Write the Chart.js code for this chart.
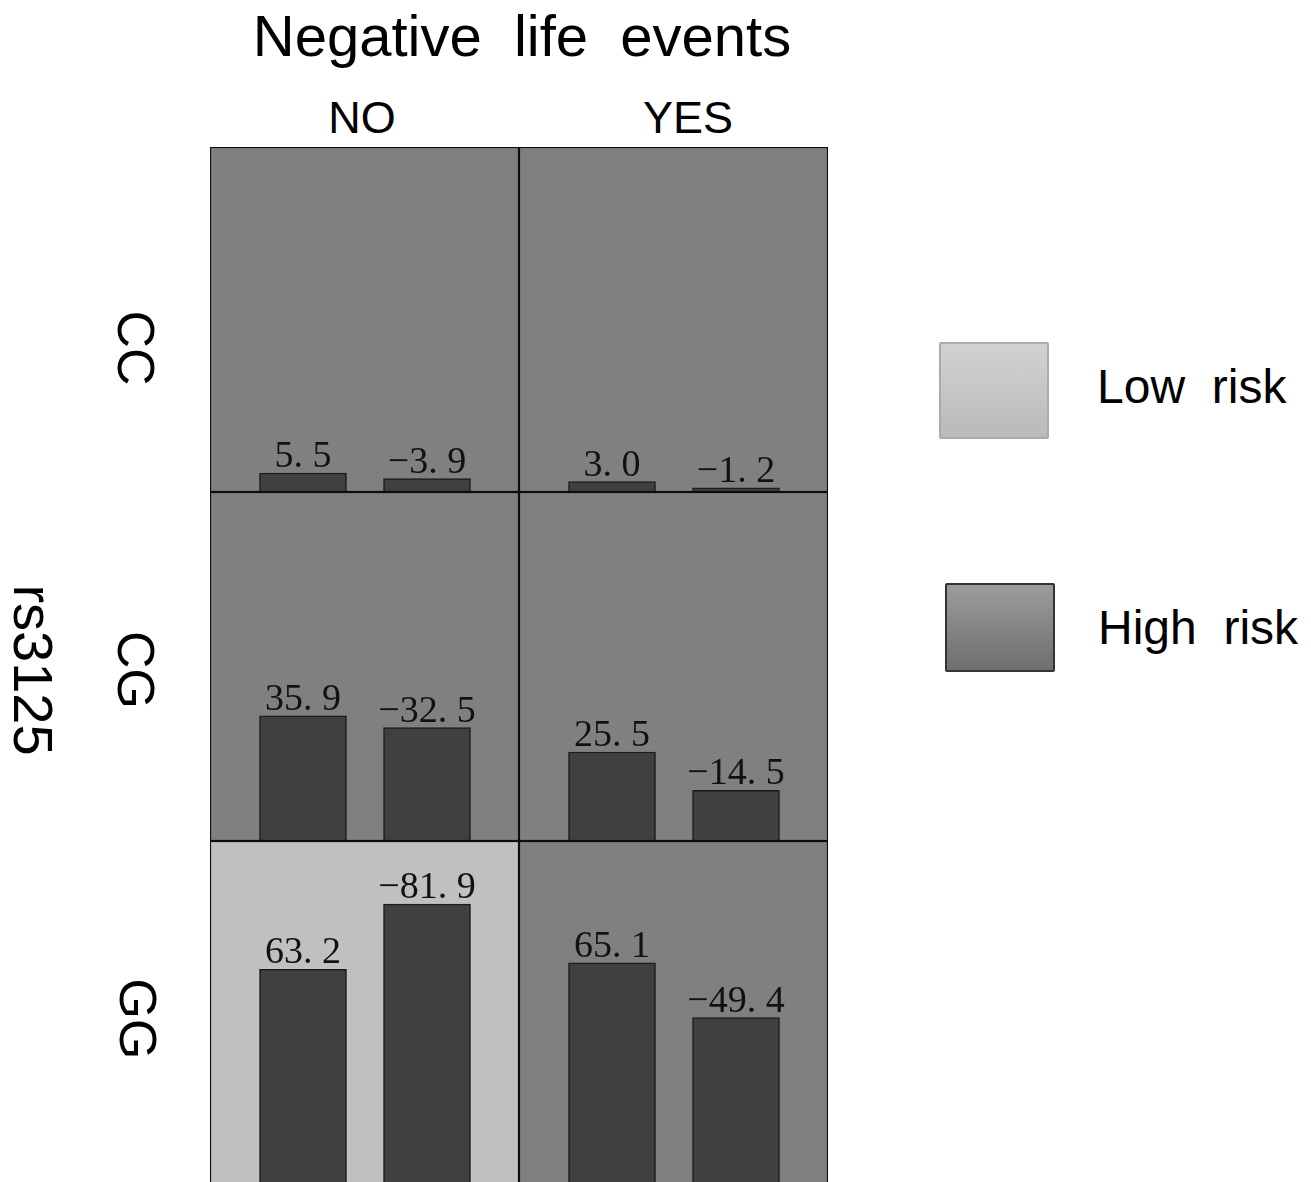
<!DOCTYPE html>
<html>
<head>
<meta charset="utf-8">
<script src="https://cdn.jsdelivr.net/npm/chart.js@4.4.1/dist/chart.umd.min.js"></script>
<style>
  html, body { margin: 0; padding: 0; width: 1311px; height: 1182px; overflow: hidden; background: #fff; }
  .txt { position: absolute; font-family: 'Liberation Sans', Arial, sans-serif; color: #000; line-height: 1; white-space: pre; }
  .cell { position: absolute; }
  .box { position: absolute; box-sizing: border-box; border-radius: 2px; }
</style>
</head>
<body>
<div id="root"></div>
<script>
'use strict';

// ── Data ──────────────────────────────────────────────────────────────────────

const TITLE = 'Negative  life  events';
const Y_TITLE = 'rs3125';
const EVENTS = ['NO', 'YES'];
const GENOTYPES = ['CC', 'CG', 'GG'];
const BAR_GROUPS = ['Group 1', 'Group 2'];

// one row per genotype, two bars per cell
const NO_VALUES = [[5.5, -3.9], [35.9, -32.5], [63.2, -81.9]];
const YES_VALUES = [[3.0, -1.2], [25.5, -14.5], [65.1, -49.4]];
const NO_RISK = ['High risk', 'High risk', 'Low risk'];
const YES_RISK = ['High risk', 'High risk', 'High risk'];

const RISK_LEVELS = ['Low risk', 'High risk'];

// ── Layout / style ────────────────────────────────────────────────────────────

const COL_X = [210, 519];
const COL_W = 309;
const ROW_Y = [147, 492, 841];
const ROW_H = [345, 349, 349];

const CELL_BG = { 'Low risk': '#c0c0c0', 'High risk': '#808080' };
const BAR_COLOR = '#404040';

const root = document.getElementById('root');

function addText(text, x, baseline, size, opts = {}) {
  const d = document.createElement('div');
  d.className = 'txt';
  d.textContent = text;
  d.style.fontSize = size + 'px';
  d.style.top = (baseline - 0.8465 * size) + 'px';
  d.style.left = x + 'px';
  if (opts.center) d.style.transform = 'translateX(-50%)';
  root.appendChild(d);
  return d;
}

function addRotated(text, cx, cy, size) {
  const d = document.createElement('div');
  d.className = 'txt';
  d.textContent = text;
  d.style.fontSize = size + 'px';
  d.style.left = cx + 'px';
  d.style.top = cy + 'px';
  d.style.transform = 'translate(-50%, -50%) rotate(90deg)';
  root.appendChild(d);
}

function formatValue(v) {
  return v.toFixed(1).replace('-', '\u2212').replace('.', '. ');
}

// cell background + frame
const cellFrame = {
  id: 'cellFrame',
  beforeDraw(chart, args, opts) {
    const { ctx, width, height } = chart;
    ctx.save();
    ctx.fillStyle = opts.color;
    ctx.fillRect(0, 0, width, height);
    ctx.restore();
  },
  afterDraw(chart) {
    const { ctx, width, height } = chart;
    ctx.save();
    ctx.strokeStyle = '#0d0d0d';
    ctx.lineWidth = 1.2;
    ctx.strokeRect(0.5, 0.5, width - 1, height - 1);
    ctx.restore();
  },
};

// value labels above bars
const barLabels = {
  id: 'barLabels',
  afterDatasetsDraw(chart, args, opts) {
    const { ctx } = chart;
    const meta = chart.getDatasetMeta(0);
    ctx.save();
    ctx.font = '38px "Liberation Serif", "Times New Roman", serif';
    ctx.fillStyle = '#111';
    ctx.textAlign = 'center';
    ctx.textBaseline = 'alphabetic';
    meta.data.forEach((bar, i) => {
      ctx.fillText(formatValue(opts.values[i]), bar.x, bar.y - 6);
    });
    ctx.restore();
  },
};

function createCellChart(x, y, h, values, risk) {
  const canvas = document.createElement('canvas');
  canvas.width = COL_W;
  canvas.height = h;
  canvas.className = 'cell';
  canvas.style.left = x + 'px';
  canvas.style.top = y + 'px';
  root.appendChild(canvas);

  return new Chart(canvas, {
    type: 'bar',
    data: {
      labels: BAR_GROUPS,
      datasets: [{
        data: values.map(Math.abs),
        backgroundColor: BAR_COLOR,
        borderColor: '#1c1c1c',
        borderWidth: 1.5,
        borderSkipped: 'bottom',
        barThickness: 87,
      }],
    },
    options: {
      responsive: false,
      animation: false,
      devicePixelRatio: 1,
      layout: { padding: { left: 31, right: 30, top: 0, bottom: 0 } },
      plugins: {
        legend: { display: false },
        tooltip: { enabled: false },
        cellFrame: { color: CELL_BG[risk] },
        barLabels: { values },
      },
      scales: {
        x: { display: false, offset: true },
        y: { display: false, min: 0, max: 100 },
      },
    },
    plugins: [cellFrame, barLabels],
  });
}

// ── Build ─────────────────────────────────────────────────────────────────────

GENOTYPES.forEach((g, r) => {
  createCellChart(COL_X[0], ROW_Y[r], ROW_H[r], NO_VALUES[r], NO_RISK[r]);
  createCellChart(COL_X[1], ROW_Y[r], ROW_H[r], YES_VALUES[r], YES_RISK[r]);
});

addText(TITLE, 522, 56, 58, { center: true });
addText(EVENTS[0], 362, 133, 45, { center: true });
addText(EVENTS[1], 688, 133, 45, { center: true });

const ROW_LABEL_POS = [[136, 348], [136, 670], [138, 1019]];
GENOTYPES.forEach((g, r) => addRotated(g, ROW_LABEL_POS[r][0], ROW_LABEL_POS[r][1], 52));
addRotated(Y_TITLE, 33, 670, 56);

// legend
const LEGEND_BOXES = [
  { left: 939, top: 342, w: 110, h: 97, bg: 'linear-gradient(#d2d2d2, #bababa)', border: '2px solid #ababab' },
  { left: 945, top: 583, w: 110, h: 89, bg: 'linear-gradient(#9c9c9c, #6e6e6e)', border: '2px solid #333' },
];
const LEGEND_TEXT = [[1097, 404], [1098, 645]];
RISK_LEVELS.forEach((lvl, i) => {
  const b = LEGEND_BOXES[i];
  const d = document.createElement('div');
  d.className = 'box';
  Object.assign(d.style, {
    left: b.left + 'px', top: b.top + 'px', width: b.w + 'px', height: b.h + 'px',
    background: b.bg, border: b.border,
  });
  root.appendChild(d);
  addText(lvl.replace(' ', '  '), LEGEND_TEXT[i][0], LEGEND_TEXT[i][1], 48);
});
</script>
</body>
</html>
